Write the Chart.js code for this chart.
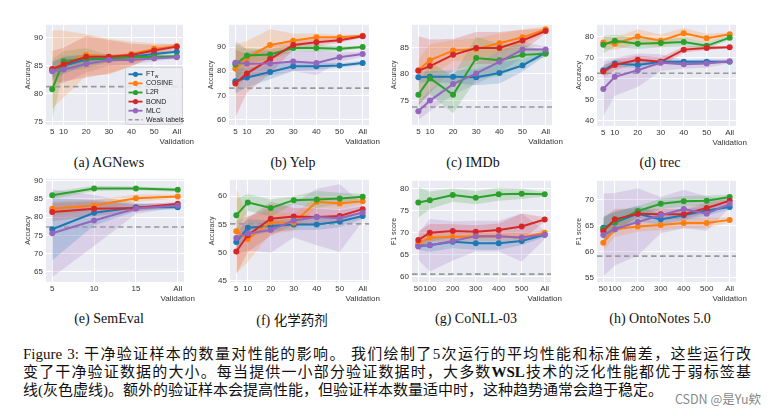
<!DOCTYPE html>
<html><head><meta charset="utf-8">
<script src="https://cdn.jsdelivr.net/npm/chart.js@4/dist/chart.umd.min.js"></script>
<style>
html,body{margin:0;padding:0;background:#fff}
body{width:775px;height:416px;overflow:hidden;position:relative;font-family:"Liberation Serif","Noto Sans CJK SC",serif;color:#111}
.pc{position:absolute}
.pc canvas{display:block}
.cap{position:absolute;font-size:14px;line-height:16px;white-space:nowrap;transform:translateX(-50%)}
.cjk{font-family:"Noto Sans CJK SC",sans-serif;font-size:13.5px}
.fig{position:absolute;left:23px;top:345px;width:728px;font-size:15px;line-height:18px}
.fig .l{text-align:justify;text-align-last:justify;height:18px}
.fig .l3{text-align:left;height:18px}
.wm{position:absolute;right:14px;top:389px;font-family:"Noto Sans CJK SC",sans-serif;font-size:12.5px;color:rgba(110,110,110,0.85);text-shadow:0 0 2px #fff,0 0 2px #fff}
</style></head><body>
<div id="root"></div>

<div class="cap" style="left:109px;top:155px">(a) AGNews</div>
<div class="cap" style="left:293px;top:155px">(b) Yelp</div>
<div class="cap" style="left:473px;top:155px">(c) IMDb</div>
<div class="cap" style="left:660px;top:155px">(d) trec</div>
<div class="cap" style="left:109px;top:311px">(e) SemEval</div>
<div class="cap" style="left:292px;top:311px">(f) <span class="cjk">化学药剂</span></div>
<div class="cap" style="left:476px;top:311px">(g) CoNLL-03</div>
<div class="cap" style="left:660px;top:311px">(h) OntoNotes 5.0</div>

<div class="fig">
<div class="l">Figure 3: 干净验证样本的数量对性能的影响。 我们绘制了5次运行的平均性能和标准偏差，这些运行改</div>
<div class="l">变了干净验证数据的大小。每当提供一小部分验证数据时，大多数<b>WSL</b>技术的泛化性能都优于弱标签基</div>
<div class="l3">线(灰色虚线)。额外的验证样本会提高性能，但验证样本数量适中时，这种趋势通常会趋于稳定。</div>
</div>
<div class="wm">CSDN @是Yu欸</div>

<script>
// ---------- categories / tick labels ----------
const sizesFew = ['5','10','20','30','40','50','All Validation'];
const xFew = [5,10,20,30,40,50,60];
const sizesSem = ['5','10','15','All Validation'];
const xSem = [5,10,15,20];
const sizesNer = ['50','100','200','300','400','500','All Validation'];
const xNer = [50,100,200,300,400,500,600];
const seriesNames = ['FT_w','COSINE','L2R','BOND','MLC'];

// ---------- (a) AGNews ----------
const agFT = [84.2,85.0,86.1,86.3,86.6,87.1,87.5];   const agFTsd = [1.5,1.5,1.0,0.7,0.5,0.4,0.3];
const agCOS = [84.3,85.3,86.9,86.6,87.1,88.0,88.5];  const agCOSsd = [7.0,6.0,3.7,3.2,2.2,1.0,0.3];
const agL2R = [80.8,85.8,86.3,86.3,86.5,86.6,86.7];  const agL2Rsd = [5.3,1.8,1.8,0.6,0.5,0.4,0.3];
const agBOND = [84.4,85.2,86.6,86.6,86.9,87.7,88.4]; const agBONDsd = [3.2,3.0,3.7,3.0,2.0,1.0,0.5];
const agMLC = [84.0,84.3,85.3,86.0,86.0,86.3,86.5];  const agMLCsd = [1.5,2.5,1.5,1.0,0.8,0.5,0.3];
const agWeak = 81.25;
const agYTicks = [75,80,85,90];

// ---------- (b) Yelp ----------
const yeFT = [75.8,77.4,79.7,82.1,82.1,82.4,83.4];   const yeFTsd = [5,4,3,2,1.5,1,0.8];
const yeCOS = [81.0,85.5,90.9,92.6,94.1,94.1,94.7];  const yeCOSsd = [10,7,6.5,3,1.5,1,0.5];
const yeL2R = [82.8,86.5,86.9,89.6,89.6,89.3,90.0];  const yeL2Rsd = [8,3,2,1.5,1.5,1,0.5];
const yeBOND = [74.9,79.1,85.0,90.9,92.0,92.8,94.5]; const yeBONDsd = [14,8,6,2,1.5,1,0.5];
const yeMLC = [83.5,83.1,83.2,84.0,83.4,85.8,87.1];  const yeMLCsd = [9,6,5,4,5,2,1];
const yeWeak = 73.0;
const yeYTicks = [60,70,80,90];

// ---------- (c) IMDb ----------
const imFT = [79.4,79.5,79.5,79.4,80.2,81.6,84.0];   const imFTsd = [1.0,1.0,1.2,1.5,2.0,1.2,0.5];
const imCOS = [80.7,82.6,84.4,84.7,85.8,86.9,88.4];  const imCOSsd = [2,3,2,2,1.8,1.5,0.5];
const imL2R = [76.1,79.2,76.1,83.0,82.6,83.6,83.8];  const imL2Rsd = [2,3,3.5,4,3,2,0.5];
const imBOND = [80.6,81.5,83.6,84.9,84.9,86.3,88.1]; const imBONDsd = [6.5,5,3,3,3,2,0.5];
const imMLC = [73.0,75.0,78.1,80.1,82.3,84.6,84.6];  const imMLCsd = [1.6,2,2,2,2,1.5,0.5];
const imWeak = 73.8;
const imYTicks = [75,80,85];

// ---------- (d) trec ----------
const trFT = [64.0,67.2,66.5,68.0,68.0,68.0,68.0];   const trFTsd = [2,1.5,1.5,1,1,1,0.5];
const trCOS = [77.2,76.6,80.0,78.0,81.6,79.2,81.1];  const trCOSsd = [3,3,3.5,3,2.5,2,1];
const trL2R = [76.1,78.0,76.6,76.9,77.4,75.6,79.5];  const trL2Rsd = [4,3,2.5,2,2,1.5,1];
const trBOND = [63.4,66.5,69.0,68.0,73.8,74.6,74.9]; const trBONDsd = [3,2.5,2,2,1.5,1,0.5];
const trMLC = [55.1,60.9,64.0,67.6,66.8,67.2,68.3];  const trMLCsd = [13,9,8,4,2,2,1];
const trWeak = 62.6;
const trYTicks = [40,50,60,70,80];

// ---------- (e) SemEval ----------
const seFT = [76.7,81.2,82.7,82.7];   const seFTsd = [8.5,3.5,1,0.5];
const seCOS = [82.3,83.2,85.2,85.7];  const seCOSsd = [2,1.5,1,0.5];
const seL2R = [86.0,87.9,87.9,87.5];  const seL2Rsd = [1,0.7,0.5,0.5];
const seBOND = [81.4,82.3,82.5,83.7]; const seBONDsd = [2.5,2,1,0.5];
const seMLC = [75.6,79.1,82.4,83.2];  const seMLCsd = [12,7,1.5,0.5];
const seWeak = 77.3;
const seYTicks = [65,70,75,80,85,90];

// ---------- (f) 化学药剂 ----------
const chFT = [51.9,54.4,54.7,55.0,55.0,55.5,56.5];   const chFTsd = [1.5,1.5,1,1,1,1,0.5];
const chCOS = [53.8,52.4,55.4,55.3,59.0,58.7,59.1];  const chCOSsd = [7.5,4,2,1.5,1,1,0.5];
const chL2R = [56.6,58.9,57.9,59.3,59.4,59.6,59.9];  const chL2Rsd = [3,1.5,1.5,0.7,1.5,1,0.5];
const chBOND = [50.2,53.1,56.0,56.4,56.3,56.5,57.7]; const chBONDsd = [4,3,3,1.5,1.5,1,0.5];
const chMLC = [52.6,53.4,54.0,55.7,56.3,56.1,57.1];  const chMLCsd = [3,3,4,3,5,6,1.5];
const chWeak = 55.1;
const chYTicks = [45,50,55,60];

// ---------- (g) CoNLL-03 ----------
const coFT = [67.0,67.1,67.9,67.6,67.6,68.1,69.5];   const coFTsd = [1,1.5,1.5,1.5,1.5,1,0.5];
const coCOS = [67.6,68.9,69.0,69.2,69.1,68.9,70.0];  const coCOSsd = [1,1,1,1,1,1,0.5];
const coL2R = [76.9,77.4,78.6,78.0,78.8,78.9,78.8];  const coL2Rsd = [3.5,2,1.5,1.5,1.5,1.2,0.5];
const coBOND = [68.3,70.0,70.4,70.2,70.6,71.4,73.0]; const coBONDsd = [2,2,1.5,1.5,1.5,3,0.5];
const coMLC = [66.8,67.1,68.1,69.2,69.2,68.9,69.5];  const coMLCsd = [3,6,4.5,3.5,3.5,5.5,1];
const coWeak = 60.5;
const coYTicks = [60,65,70,75,80];

// ---------- (h) OntoNotes 5.0 ----------
const onFT = [64.6,65.6,67.3,66.2,67.0,67.9,68.6];   const onFTsd = [2,2,1.5,1,1,1,0.5];
const onCOS = [61.7,64.3,64.8,65.1,65.5,65.5,66.1];  const onCOSsd = [1.5,1.5,1,1,1,1,0.5];
const onL2R = [64.3,65.7,67.8,69.2,69.7,69.8,70.5];  const onL2Rsd = [2.5,2,1,1,1,1,0.5];
const onBOND = [63.9,66.2,67.3,67.2,67.2,68.4,69.8]; const onBONDsd = [2.5,2,1,1,1,1,0.5];
const onMLC = [63.2,64.3,65.7,67.0,68.2,67.3,69.2];  const onMLCsd = [8,7,6.5,3.5,3.7,3.3,0.8];
const onWeak = 59.1;
const onYTicks = [55,60,65,70];

// ---------- styles ----------
const COLORS = [[31,119,180],[255,127,14],[44,160,44],[214,39,40],[148,103,189]];
const FONT = '"Liberation Sans", Arial, sans-serif';
const TICK = '#333';

const panels = [
  {id:'a', xs:xFew, lab:sizesFew, xr:[2.25,62.75], yr:[74.4,92.3], yt:agYTicks, ytitle:'Accuracy',
   s:[[agFT,agFTsd],[agCOS,agCOSsd],[agL2R,agL2Rsd],[agBOND,agBONDsd],[agMLC,agMLCsd]], weak:agWeak, box:[46,183,23,125], legend:true},
  {id:'b', xs:xFew, lab:sizesFew, xr:[2.25,62.75], yr:[57.7,99.25], yt:yeYTicks, ytitle:'Accuracy',
   s:[[yeFT,yeFTsd],[yeCOS,yeCOSsd],[yeL2R,yeL2Rsd],[yeBOND,yeBONDsd],[yeMLC,yeMLCsd]], weak:yeWeak, box:[229,369,23,125]},
  {id:'c', xs:xFew, lab:sizesFew, xr:[2.25,62.75], yr:[70.4,89.26], yt:imYTicks, ytitle:'Accuracy',
   s:[[imFT,imFTsd],[imCOS,imCOSsd],[imL2R,imL2Rsd],[imBOND,imBONDsd],[imMLC,imMLCsd]], weak:imWeak, box:[412,552,23,125]},
  {id:'d', xs:xFew, lab:sizesFew, xr:[2.25,62.75], yr:[37.5,85.6], yt:trYTicks, ytitle:'Accuracy',
   s:[[trFT,trFTsd],[trCOS,trCOSsd],[trL2R,trL2Rsd],[trBOND,trBONDsd],[trMLC,trMLCsd]], weak:trWeak, box:[597,736,23,126]},
  {id:'e', xs:xSem, lab:sizesSem, xr:[4.25,20.75], yr:[62.2,90.54], yt:seYTicks, ytitle:'Accuracy',
   s:[[seFT,seFTsd],[seCOS,seCOSsd],[seL2R,seL2Rsd],[seBOND,seBONDsd],[seMLC,seMLCsd]], weak:seWeak, box:[46,184,177,282]},
  {id:'f', xs:xFew, lab:sizesFew, xr:[2.25,62.75], yr:[44.8,62.9], yt:chYTicks, ytitle:'Accuracy',
   s:[[chFT,chFTsd],[chCOS,chCOSsd],[chL2R,chL2Rsd],[chBOND,chBONDsd],[chMLC,chMLCsd]], weak:chWeak, box:[230,369,178,282]},
  {id:'g', xs:xNer, lab:sizesNer, xr:[22.5,627.5], yr:[58.7,81.87], yt:coYTicks, ytitle:'F1 score',
   s:[[coFT,coFTsd],[coCOS,coCOSsd],[coL2R,coL2Rsd],[coBOND,coBONDsd],[coMLC,coMLCsd]], weak:coWeak, box:[412,551,179,282]},
  {id:'h', xs:xNer, lab:sizesNer, xr:[22.5,627.5], yr:[54.1,73.65], yt:onYTicks, ytitle:'F1 score',
   s:[[onFT,onFTsd],[onCOS,onCOSsd],[onL2R,onL2Rsd],[onBOND,onBONDsd],[onMLC,onMLCsd]], weak:onWeak, box:[597,736,179,282]}
];

const rgba = (c,a) => `rgba(${c[0]},${c[1]},${c[2]},${a})`;

const bgPlugin = {
  id:'bg',
  beforeDraw(chart){
    const {ctx, chartArea:ca} = chart;
    ctx.save(); ctx.fillStyle = '#EAEAF2';
    ctx.fillRect(ca.left, ca.top, ca.right-ca.left, ca.bottom-ca.top);
    ctx.restore();
  }
};

const legendPlugin = {
  id:'lgd',
  afterDraw(chart){
    if(!chart.options.plugins.lgd || !chart.options.plugins.lgd.show) return;
    const {ctx, chartArea:ca} = chart;
    const w = 57, h = 57;
    const x0 = ca.right - 1 - w, y0 = ca.top + 42;
    ctx.save();
    ctx.beginPath();
    if (ctx.roundRect) ctx.roundRect(x0+0.5, y0+0.5, w, h, 2.5); else ctx.rect(x0+0.5,y0+0.5,w,h);
    ctx.fillStyle = 'rgba(236,236,243,0.85)'; ctx.fill();
    ctx.strokeStyle = '#cfcfd6'; ctx.lineWidth = 1; ctx.stroke();
    const rows = seriesNames.concat(['Weak labels']);
    rows.forEach((name,i)=>{
      const yy = y0 + 7.5 + i*9.1;
      const lx0 = x0 + 3.5, lx1 = x0 + 17.5, mx = x0 + 10.5;
      if (i < 5) {
        const c = rgba(COLORS[i],1);
        ctx.strokeStyle = c; ctx.lineWidth = 1.8; ctx.setLineDash([]);
        ctx.beginPath(); ctx.moveTo(lx0,yy); ctx.lineTo(lx1,yy); ctx.stroke();
        ctx.fillStyle = c; ctx.beginPath(); ctx.arc(mx,yy,2.6,0,Math.PI*2); ctx.fill();
      } else {
        ctx.strokeStyle = '#999'; ctx.lineWidth = 1.4; ctx.setLineDash([4,2.5]);
        ctx.beginPath(); ctx.moveTo(lx0,yy); ctx.lineTo(lx1,yy); ctx.stroke();
        ctx.setLineDash([]);
      }
      ctx.fillStyle = '#222'; ctx.textBaseline = 'middle'; ctx.textAlign = 'left';
      ctx.font = '7px ' + FONT;
      const tx = x0 + 21;
      if (name === 'FT_w') {
        ctx.fillText('FT', tx, yy);
        const tw = ctx.measureText('FT').width;
        ctx.font = '5px ' + FONT;
        ctx.fillText('w', tx + tw + 0.3, yy + 2);
      } else {
        ctx.fillText(name, tx, yy);
      }
    });
    ctx.restore();
  }
};

const YW = 22, XH = 26, PT = 6, PR = 20;

panels.forEach(p=>{
  const [L,R,T,B] = p.box;
  const left = L - YW, top = T - PT;
  const W = (R - L) + YW + PR, H = (B - T) + PT + XH;
  const div = document.createElement('div');
  div.className = 'pc';
  div.style.left = left + 'px'; div.style.top = top + 'px';
  div.style.width = W + 'px'; div.style.height = H + 'px';
  const cv = document.createElement('canvas');
  cv.width = W; cv.height = H; cv.style.width = W+'px'; cv.style.height = H+'px';
  div.appendChild(cv);
  document.getElementById('root').appendChild(div);

  const datasets = [];
  p.s.forEach((pair,i)=>{
    const [mean, sd] = pair;
    const col = COLORS[i];
    datasets.push({
      data: p.xs.map((x,k)=>({x, y: mean[k] + sd[k]})),
      borderColor:'rgba(0,0,0,0)', borderWidth:0, pointRadius:0, fill:false, order:20, tension:0
    });
    datasets.push({
      data: p.xs.map((x,k)=>({x, y: mean[k] - sd[k]})),
      borderColor:'rgba(0,0,0,0)', borderWidth:0, pointRadius:0, fill:'-1',
      backgroundColor: rgba(col,0.2), order:20, tension:0
    });
  });
  datasets.push({
    data:[{x:p.xr[0], y:p.weak},{x:p.xr[1], y:p.weak}],
    borderColor:'#9a9a9a', borderWidth:1.6, borderDash:[5.5,3.5], pointRadius:0, fill:false, order:8
  });
  p.s.forEach((pair,i)=>{
    const [mean] = pair;
    const c = rgba(COLORS[i],1);
    datasets.push({
      data: p.xs.map((x,k)=>({x, y: mean[k]})),
      borderColor:c, backgroundColor:c, borderWidth:2, pointRadius:3, pointBorderWidth:0,
      pointBackgroundColor:c, fill:false, tension:0, order: 5 - i
    });
  });

  const labelFor = v => {
    const k = p.xs.indexOf(v);
    if (k < 0) return '';
    const t = p.lab[k];
    return t.indexOf(' ') > 0 ? t.split(' ') : t;
  };

  new Chart(cv, {
    type:'line',
    data:{datasets},
    plugins:[bgPlugin, legendPlugin],
    options:{
      responsive:false, animation:false, events:[],
      layout:{padding:{top:PT, right:PR, left:0, bottom:0}},
      plugins:{legend:{display:false}, tooltip:{enabled:false}, lgd:{show:!!p.legend}},
      scales:{
        x:{
          type:'linear', min:p.xr[0], max:p.xr[1],
          afterBuildTicks: ax => { ax.ticks = p.xs.map(v=>({value:v})); },
          afterFit: s => { s.height = XH; },
          ticks:{callback: v => labelFor(v), font:{size:8, family:FONT, lineHeight:1.15}, color:TICK, padding:2.5, maxRotation:0, autoSkip:false},
          grid:{color:'#ffffff', lineWidth:1, drawTicks:false},
          border:{display:false}
        },
        y:{
          type:'linear', min:p.yr[0], max:p.yr[1],
          afterBuildTicks: ax => { ax.ticks = p.yt.map(v=>({value:v})); },
          afterFit: s => { s.width = YW; },
          ticks:{font:{size:8, family:FONT}, color:TICK, padding:3},
          title:{display:true, text:p.ytitle, font:{size:7, family:FONT}, color:TICK, padding:0},
          grid:{color:'#ffffff', lineWidth:1, drawTicks:false},
          border:{display:false}
        }
      }
    }
  });
});
</script>
</body></html>
